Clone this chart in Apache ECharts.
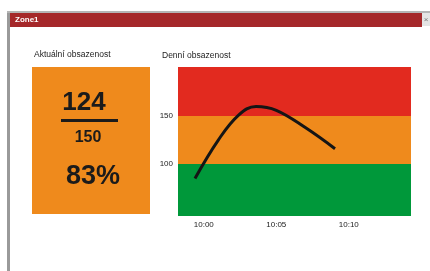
<!DOCTYPE html>
<html><head><meta charset="utf-8">
<script src="https://cdn.jsdelivr.net/npm/echarts@6/dist/echarts.min.js"></script>
<style>html,body{margin:0;padding:0;background:#fff}#c{width:430px;height:271px}</style>
</head><body><div id="c"></div>
<script>
// data
const windowTitle = 'Zone1';
const leftTitle = 'Aktuální obsazenost';
const rightTitle = 'Denní obsazenost';
const current = 124;
const capacity = 150;
const percent = '83%';
// minutes after 10:00
const minutes = [-0.61, 1.0, 2.4, 3.6, 5.0, 7.0, 9.05];
const occupancy = [85, 125, 151, 160, 156, 138, 116];
const xTickMinutes = [0, 5, 10];
const xTickLabels = ['10:00', '10:05', '10:10'];
const yTickValues = [100, 150];
const bandLimits = [46, 100, 150, 201];
const bandColors = ['#00983a', '#ef8a1c', '#e22a1f'];

const chart = echarts.init(document.getElementById('c'), null, {renderer: 'canvas'});
const font = 'Liberation Sans, Arial, sans-serif';
const bands = [];
for (let i = 0; i < bandColors.length; i++) {
  bands.push([{yAxis: bandLimits[i], itemStyle: {color: bandColors[i], opacity: 1}}, {yAxis: bandLimits[i + 1]}]);
}
chart.setOption({
  animation: false,
  backgroundColor: '#fff',
  grid: {left: 178, right: 19, top: 67, bottom: 55},
  xAxis: {
    type: 'value', min: -1.78, max: 14.29,
    axisLine: {show: false}, axisTick: {show: false}, splitLine: {show: false},
    axisLabel: {
      customValues: xTickMinutes, margin: 5,
      color: '#222', fontSize: 8, fontFamily: font,
      formatter: v => xTickLabels[xTickMinutes.indexOf(Math.round(v))] || ''
    }
  },
  yAxis: {
    type: 'value', min: bandLimits[0], max: bandLimits[bandLimits.length - 1],
    axisLine: {show: false}, axisTick: {show: false}, splitLine: {show: false},
    axisLabel: {customValues: yTickValues, margin: 5, color: '#222', fontSize: 8, fontFamily: font}
  },
  series: [{
    type: 'line',
    data: minutes.map((m, i) => [m, occupancy[i]]),
    smooth: 0.4,
    showSymbol: false,
    lineStyle: {color: '#151515', width: 3},
    markArea: {silent: true, data: bands},
    z: 3
  }],
  graphic: [
    {type: 'rect', shape: {x: 7, y: 11, width: 3, height: 260}, style: {fill: '#9a9a9a'}},
    {type: 'rect', shape: {x: 7, y: 11, width: 423, height: 2}, style: {fill: '#b5b5b5'}},
    {type: 'rect', shape: {x: 10, y: 13, width: 412, height: 14}, style: {fill: '#a5282a'}},
    {type: 'rect', shape: {x: 422, y: 13, width: 8, height: 13}, style: {fill: '#e4e4e4'}},
    {type: 'text', style: {x: 426, y: 20, text: '×', fill: '#777', font: '8px ' + font, align: 'center', verticalAlign: 'middle'}},
    {type: 'text', style: {x: 15, y: 20, text: windowTitle, fill: '#fff', font: 'bold 8px ' + font, verticalAlign: 'middle'}},
    {type: 'text', style: {x: 34, y: 55, text: leftTitle, fill: '#222', font: '8.5px ' + font, verticalAlign: 'middle'}},
    {type: 'text', style: {x: 162, y: 56, text: rightTitle, fill: '#222', font: '8.5px ' + font, verticalAlign: 'middle'}},
    {type: 'rect', shape: {x: 32, y: 67, width: 118, height: 147}, style: {fill: '#ef8a1c'}},
    {type: 'text', style: {x: 84, y: 103, text: String(current), fill: '#1b1b1b', font: 'bold 26px ' + font, align: 'center', verticalAlign: 'middle'}},
    {type: 'rect', shape: {x: 61, y: 119, width: 57, height: 3}, style: {fill: '#1b1b1b'}},
    {type: 'text', style: {x: 88, y: 138, text: String(capacity), fill: '#1b1b1b', font: 'bold 16px ' + font, align: 'center', verticalAlign: 'middle'}},
    {type: 'text', style: {x: 93, y: 177, text: percent, fill: '#1b1b1b', font: 'bold 27px ' + font, align: 'center', verticalAlign: 'middle'}}
  ]
});
</script></body></html>
